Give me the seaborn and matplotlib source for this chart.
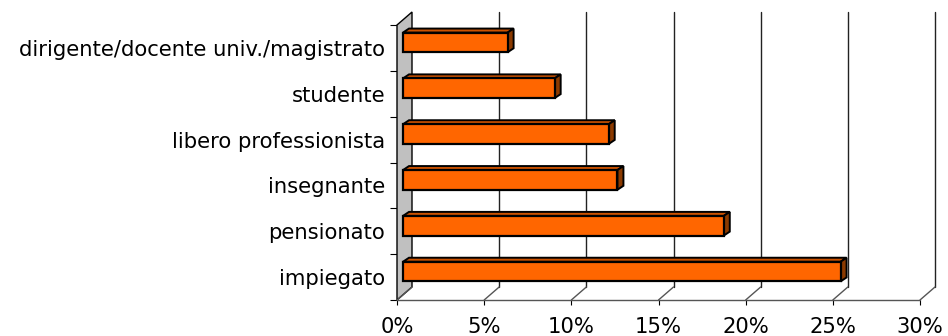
import matplotlib
matplotlib.use("Agg")
import matplotlib.pyplot as plt
import seaborn as sns
import pandas as pd
from matplotlib.patches import Polygon
from matplotlib.transforms import ScaledTranslation, IdentityTransform
from matplotlib.lines import Line2D

categories = ["dirigente/docente univ./magistrato", "studente", "libero professionista",
              "insegnante", "pensionato", "impiegato"]
values = [6.0, 8.7, 11.8, 12.3, 18.4, 25.1]
xticks = [0, 5, 10, 15, 20, 25, 30]
xticklabels = ["0%", "5%", "10%", "15%", "20%", "25%", "30%"]

sns.set_style("white")
plt.rcParams['font.family'] = ['DejaVu Sans']
plt.rcParams['text.color'] = 'black'
plt.rcParams['xtick.color'] = 'black'
plt.rcParams['ytick.color'] = 'black'

W, H = 948, 336
DPI = 100
fig = plt.figure(figsize=(W / DPI, H / DPI), dpi=DPI)

# front plane in pixels
x0, x1 = 397, 920
ytop, ybot = 25, 300
ax = fig.add_axes([x0 / W, (H - ybot) / H, (x1 - x0) / W, (ybot - ytop) / H])

df = pd.DataFrame({"cat": categories, "val": values})
sns.barplot(data=df, x="val", y="cat", orient="h", width=0.43, color="#FF6600",
            edgecolor="black", linewidth=1.6, ax=ax, saturation=1, zorder=6)
bars = [p for p in ax.patches]
ax.set_xlim(0, 30)
ax.set_ylim(len(categories) - 0.5, -0.5)
ax.set_autoscale_on(False)

for s in ax.spines.values():
    s.set_visible(False)
ax.set_xlabel("")
ax.set_ylabel("")
ax.grid(False)

# wall depth (pixels)
WDX, WDY = 15, 13
# bar offset (mid-depth) and bar depth
BDX, BDY = 6, 5.5
DDX, DDY = 6, 4

fig.canvas.draw()
ID = IdentityTransform()

def px(xv, yv):
    return ax.transData.transform((xv, yv))

def add_poly(pts, fc, lw, z):
    p = Polygon(pts, closed=True, transform=ID, facecolor=fc, edgecolor="black",
                linewidth=lw, zorder=z, clip_on=False)
    ax.add_artist(p)

def add_line(xs, ys, color, z):
    ln = Line2D(xs, ys, transform=ID, color=color, linewidth=1.0, zorder=z, clip_on=False)
    ax.add_artist(ln)

nb = len(categories) - 0.5
# back wall (grey)
p_bl = px(0, nb)
p_tl = px(0, -0.5)
add_poly([p_bl, p_tl, (p_tl[0] + WDX, p_tl[1] + WDY), (p_bl[0] + WDX, p_bl[1] + WDY)],
         "#C0C0C0", 1.0, 1)

# back gridlines and floor diagonals
for v in xticks[1:]:
    b = px(v, nb)
    t = px(v, -0.5)
    add_line([b[0] + WDX, t[0] + WDX], [b[1] + WDY, t[1] + WDY], "#222222", 1)
for v in xticks:
    b = px(v, nb)
    add_line([b[0], b[0] + WDX], [b[1], b[1] + WDY], "#555555", 1)
bl = px(0, nb)
br = px(30, nb)
add_line([bl[0], br[0]], [bl[1], bl[1]], "#555555", 1)

# 3D bars: shift front faces and add top/side faces
shift = ScaledTranslation(BDX / DPI, BDY / DPI, fig.dpi_scale_trans)
for patch in bars:
    bx, by = patch.get_x(), patch.get_y()
    bw, bh = patch.get_width(), patch.get_height()
    patch.set_transform(ax.transData + shift)
    patch.set_clip_on(False)
    tl = px(bx, by); tr = px(bx + bw, by); br_ = px(bx + bw, by + bh)
    tl = (tl[0] + BDX, tl[1] + BDY); tr = (tr[0] + BDX, tr[1] + BDY)
    br_ = (br_[0] + BDX, br_[1] + BDY)
    add_poly([tl, tr, (tr[0] + DDX, tr[1] + DDY), (tl[0] + DDX, tl[1] + DDY)],
             "#CC5200", 1.4, 5)
    add_poly([tr, br_, (br_[0] + DDX, br_[1] + DDY), (tr[0] + DDX, tr[1] + DDY)],
             "#8B3A00", 1.4, 5)

# ticks
ax.set_xticks(xticks)
ax.set_xticklabels(xticklabels, fontsize=15.2, color="black")
ax.tick_params(axis="x", length=3.6, width=0.8, color="black", labelcolor="black",
               pad=8.8, bottom=True)
ax.set_yticks(range(len(categories)))
ax.set_yticklabels(categories, fontsize=15.2, color="black")
ax.tick_params(axis="y", which="major", length=0, pad=8.6, labelcolor="black")
ax.set_yticks([i - 0.5 for i in range(len(categories) + 1)], minor=True)
ax.tick_params(axis="y", which="minor", length=5, width=0.8, color="black", left=True)

fig.savefig("out.png", dpi=DPI)
